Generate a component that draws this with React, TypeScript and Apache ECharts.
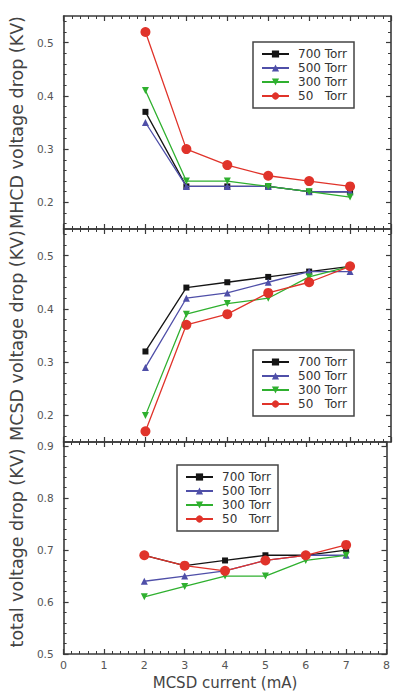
import React, { useEffect, useRef } from "react";
import * as echarts from "echarts";

const currents = [2, 3, 4, 5, 6, 7];
const seriesNames = ["700 Torr", "500 Torr", "300 Torr", "50   Torr"];

const mhcd700 = [0.37, 0.23, 0.23, 0.23, 0.22, 0.22];
const mhcd500 = [0.35, 0.23, 0.23, 0.23, 0.22, 0.22];
const mhcd300 = [0.41, 0.24, 0.24, 0.23, 0.22, 0.21];
const mhcd50 = [0.52, 0.30, 0.27, 0.25, 0.24, 0.23];

const mcsd700 = [0.32, 0.44, 0.45, 0.46, 0.47, 0.48];
const mcsd500 = [0.29, 0.42, 0.43, 0.45, 0.47, 0.47];
const mcsd300 = [0.20, 0.39, 0.41, 0.42, 0.46, 0.48];
const mcsd50 = [0.17, 0.37, 0.39, 0.43, 0.45, 0.48];

const total700 = [0.69, 0.67, 0.68, 0.69, 0.69, 0.70];
const total500 = [0.64, 0.65, 0.66, 0.68, 0.69, 0.69];
const total300 = [0.61, 0.63, 0.65, 0.65, 0.68, 0.69];
const total50 = [0.69, 0.67, 0.66, 0.68, 0.69, 0.71];

const xTicks = [0, 8];
const panel1Labels = [0.2, 0.3, 0.4, 0.5];
const panel2Labels = [0.2, 0.3, 0.4, 0.5];
const panel3Labels = [0.5, 0.6, 0.7, 0.8, 0.9];
const yTitles = ["MHCD voltage drop (KV)", "MCSD voltage drop (KV)", "total voltage drop (KV)"];
const xTitle = "MCSD current (mA)";

const FONT = "DejaVu Sans, sans-serif";
const AXIS = "#3a3a3a";
const colors = ["#151515", "#4f4fa8", "#2fb02f", "#e0332a"];

function minorValues(min: number, max: number, step: number) {
  const out: number[] = [];
  const a = Math.ceil(min / step - 1e-9);
  const b = Math.floor(max / step + 1e-9);
  for (let k = a; k <= b; k++) out.push(Math.round(k * step * 1000) / 1000);
  return out;
}

export default function App() {
  const ref = useRef<HTMLDivElement>(null);
  useEffect(() => {
    if (!ref.current) return;
    const chart = echarts.init(ref.current, null, { renderer: "svg" });
    const grids = [
      { top: 16, height: 213 },
      { top: 229, height: 213 },
      { top: 442, height: 213 },
    ];
    const ranges = [
      [0.15, 0.55],
      [0.15, 0.55],
      [0.5, 0.908],
    ];
    const labels = [panel1Labels, panel2Labels, panel3Labels];
    const data = [
      [mhcd700, mhcd500, mhcd300, mhcd50],
      [mcsd700, mcsd500, mcsd300, mcsd50],
      [total700, total500, total300, total50],
    ];
    const legendPos = [
      { left: 253, top: 42 },
      { left: 253, top: 350 },
      { left: 177, top: 465 },
    ];

    const xAxis: any[] = [];
    const yAxis: any[] = [];
    const series: any[] = [];
    const legend: any[] = [];

    grids.forEach((g, gi) => {
      ["bottom", "top"].forEach((pos) => {
        const isLabelAxis = pos === "bottom" && gi === 2;
        xAxis.push({
          type: "value",
          gridIndex: gi,
          position: pos,
          min: xTicks[0],
          max: xTicks[1],
          interval: 1,
          axisLine: { show: true, onZero: false, lineStyle: { color: AXIS, width: 1.6 } },
          axisTick: { show: true, inside: true, length: 5, lineStyle: { color: AXIS, width: 1.2 } },
          minorTick: { show: true, splitNumber: 5, length: 3, lineStyle: { color: AXIS, width: 1 } },
          splitLine: { show: false },
          axisLabel: {
            show: isLabelAxis,
            color: "#555",
            fontSize: 11,
            fontFamily: FONT,
            margin: 6,
          },
          name: isLabelAxis ? xTitle : "",
          nameLocation: "middle",
          nameGap: 21,
          nameTextStyle: { color: "#444", fontSize: 15, fontFamily: FONT },
        });
      });
      const [mn, mx] = ranges[gi];
      const minors = minorValues(mn, mx, 0.02);
      ["left", "right"].forEach((pos) => {
        yAxis.push({
          type: "value",
          gridIndex: gi,
          position: pos,
          min: mn,
          max: mx,
          axisLine: { show: true, onZero: false, lineStyle: { color: AXIS, width: 1.6 } },
          axisTick: {
            show: true,
            inside: true,
            length: 5,
            customValues: labels[gi],
            lineStyle: { color: AXIS, width: 1.2 },
          },
          splitLine: { show: false },
          axisLabel: {
            show: pos === "left",
            customValues: labels[gi],
            formatter: (v: number) => v.toFixed(1),
            color: "#555",
            fontSize: 10.5,
            fontFamily: FONT,
            margin: 10,
          },
          name: pos === "left" ? yTitles[gi] : "",
          nameLocation: "middle",
          nameGap: 26,
          nameRotate: 90,
          nameTextStyle: { color: "#444", fontSize: 17.5, fontFamily: FONT },
        });
        yAxis.push({
          type: "value",
          gridIndex: gi,
          position: pos,
          min: mn,
          max: mx,
          axisLine: { show: false, onZero: false },
          axisTick: {
            show: true,
            inside: true,
            length: 3,
            customValues: minors,
            lineStyle: { color: AXIS, width: 1 },
          },
          splitLine: { show: false },
          axisLabel: { show: false },
        });
      });

      const symbols = ["rect", "triangle", "triangle", "circle"];
      const sizes = [6, 7, 7, 10];
      const rot = [0, 0, 180, 0];
      data[gi].forEach((vals, si) => {
        series.push({
          type: "line",
          name: seriesNames[si],
          xAxisIndex: gi * 2,
          yAxisIndex: gi * 4,
          data: currents.map((c, i) => [c, vals[i]]),
          symbol: symbols[si],
          symbolSize: sizes[si],
          symbolRotate: rot[si],
          showAllSymbol: true,
          lineStyle: { color: colors[si], width: 1.3 },
          itemStyle: { color: colors[si], borderWidth: 0 },
          emphasis: { disabled: true },
          z: 2 + si,
        });
      });

      legend.push({
        orient: "vertical",
        left: legendPos[gi].left,
        top: legendPos[gi].top,
        data: seriesNames,
        selectedMode: false,
        borderColor: "#444",
        borderWidth: 1.5,
        backgroundColor: "#fff",
        padding: [6, 7, 6, 8],
        itemWidth: 27,
        itemHeight: 9,
        itemGap: 2,
        textStyle: {
          fontSize: 12,
          lineHeight: 12,
          fontFamily: FONT,
          color: "#333",
          padding: [0, 0, 0, 4],
        },
      });
    });

    chart.setOption({
      animation: false,
      backgroundColor: "#fff",
      grid: grids.map((g) => ({ left: 60, right: 2, top: g.top, height: g.height })),
      xAxis,
      yAxis,
      series,
      legend,
    });
    return () => chart.dispose();
  }, []);
  return (
    <div
      ref={ref}
      style={{ position: "absolute", left: 0, top: 0, width: 393, height: 691 }}
    />
  );
}
